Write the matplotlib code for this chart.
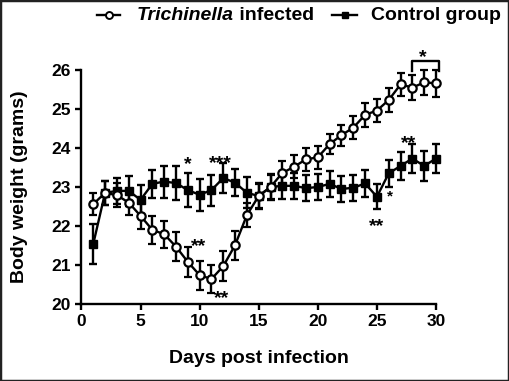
import numpy as np
import matplotlib
matplotlib.use("Agg")
import matplotlib.pyplot as plt
from matplotlib.lines import Line2D
from matplotlib.patches import Rectangle

plt.rcParams['font.family'] = ['Liberation Sans', 'DejaVu Sans']
plt.rcParams['font.weight'] = 'bold'

# Data (mean body weight, grams, and SEM)
days = np.arange(1, 31)
infected = [22.56, 22.85, 22.79, 22.6, 22.26, 21.9, 21.79, 21.47, 21.08, 20.74,
            20.64, 20.97, 21.51, 22.28, 22.77, 23.0, 23.36, 23.52, 23.71, 23.76,
            24.1, 24.33, 24.52, 24.85, 24.96, 25.23, 25.63, 25.55, 25.68, 25.66]
infected_sem = [0.28, 0.3, 0.3, 0.32, 0.34, 0.36, 0.35, 0.37, 0.38, 0.37,
                0.35, 0.38, 0.37, 0.31, 0.3, 0.3, 0.3, 0.3, 0.29, 0.29,
                0.26, 0.27, 0.29, 0.3, 0.3, 0.3, 0.3, 0.32, 0.33, 0.35]
control = [21.54, 22.85, 22.9, 22.9, 22.67, 23.08, 23.14, 23.1, 22.92, 22.8,
           22.92, 23.23, 23.11, 22.85, 22.77, 23.0, 23.03, 23.03, 22.97, 23.0,
           23.08, 22.95, 22.98, 23.09, 22.75, 23.35, 23.54, 23.73, 23.54, 23.73]
control_sem = [0.52, 0.3, 0.34, 0.38, 0.37, 0.36, 0.41, 0.43, 0.44, 0.41,
               0.4, 0.39, 0.35, 0.4, 0.33, 0.34, 0.34, 0.34, 0.34, 0.34,
               0.34, 0.34, 0.34, 0.34, 0.32, 0.35, 0.36, 0.37, 0.38, 0.37]

# significance marks: (day, weight at star centre, text, size)
stars = [(9.0, 23.76, '*', 14), (11.8, 23.78, '***', 14), (9.9, 21.64, '**', 14),
         (11.9, 20.3, '**', 14), (25.0, 22.15, '**', 14), (26.1, 22.88, '*', 11),
         (27.7, 24.29, '**', 14), (28.9, 26.5, '*', 14)]

fig = plt.figure(figsize=(5.09, 3.81), dpi=100)
ax = fig.add_axes([0.160, 0.2021, 0.6966, 0.6142])

kw = dict(color='black', lw=1.7, elinewidth=1.7, capsize=3.2, capthick=1.7,
          clip_on=False)
ax.errorbar(days, control, yerr=control_sem, marker='s', ms=5.5, mfc='black',
            mec='black', zorder=3, **kw)
ax.errorbar(days, infected, yerr=infected_sem, marker='o', ms=6, mfc='white',
            mec='black', mew=1.6, zorder=4, **kw)

for x, y, s, fs in stars:
    ax.annotate(s, (x, y), xytext=(0, -0.58 * fs), textcoords='offset points',
                ha='center', va='baseline', fontsize=fs, fontweight='bold',
                annotation_clip=False)

# bracket over days 28-30
ax.plot([28, 28, 30.25, 30.25], [25.98, 26.24, 26.24, 25.98], color='black',
        lw=1.7, clip_on=False)

ax.set_xlim(0, 30)
ax.set_ylim(20, 26)
ax.set_xticks(range(0, 31, 5))
ax.set_yticks(range(20, 27))
for s in ['top', 'right']:
    ax.spines[s].set_visible(False)
for s in ['left', 'bottom']:
    ax.spines[s].set_linewidth(1.7)
ax.tick_params(width=1.7, length=4.5, labelsize=12.5, pad=3)

ax.set_xlabel('Days post infection', fontsize=14, fontweight='bold')
ax.set_ylabel('Body weight (grams)', fontsize=14, fontweight='bold')
ax.xaxis.set_label_coords(0.5, -0.195)
ax.yaxis.set_label_coords(-0.15, 0.5)

# legend drawn by hand at the top
W, H = 509, 381
y_leg = 1 - 15 / H
fig.add_artist(Line2D([97 / W, 120 / W], [y_leg, y_leg], color='black', lw=1.7))
fig.add_artist(Line2D([108.5 / W], [y_leg], marker='o', ms=5, mfc='white',
                      mec='black', mew=1.4))
t1 = fig.text(137 / W, y_leg, 'Trichinella', fontsize=14, fontweight='bold',
              fontstyle='italic', va='center', ha='left')
ax.annotate(' infected', xy=(1, 0), xycoords=t1, va='bottom', ha='left',
            fontsize=14, fontweight='bold', annotation_clip=False)

fig.add_artist(Line2D([332 / W, 357 / W], [y_leg, y_leg], color='black', lw=1.7))
fig.add_artist(Line2D([344.5 / W], [y_leg], marker='s', ms=5, mfc='black',
                      mec='black'))
fig.text(371 / W, y_leg, 'Control group', fontsize=14, fontweight='bold',
         va='center', ha='left')

# outer frame
fig.add_artist(Rectangle((0, 0), 1, 1, transform=fig.transFigure, fill=False,
                         edgecolor='#222222', lw=2.5))

fig.savefig('out.png', dpi=100)
